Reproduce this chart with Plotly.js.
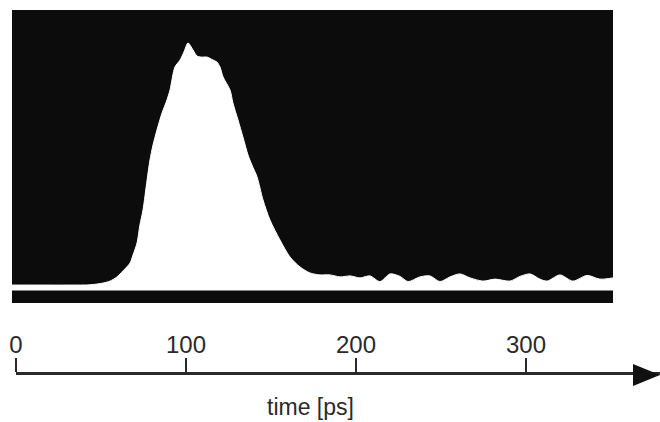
<!DOCTYPE html>
<html>
<head>
<meta charset="utf-8">
<script src="https://cdn.plot.ly/plotly-3.0.1.min.js"></script>
<style>html,body{margin:0;padding:0;background:#fff}#chart{width:660px;height:422px}</style>
</head>
<body>
<div id="chart"></div>
<script>
// time in ps
const timePs = [-2.4, 14.1, 31.8, 43.5, 51.2, 55.3, 59.4, 62.9, 67.1, 68.8, 71.2, 72.9, 74.7, 77.1, 78.8, 80.6, 82.9, 85.9, 88.8, 90.6, 93.5, 96.5, 98.8, 101.2, 104.1, 106.5, 108.8, 112.4, 115.9, 118.2, 120.0, 121.8, 125.9, 127.6, 130.6, 133.5, 136.5, 138.8, 141.8, 145.3, 149.4, 155.3, 161.2, 167.1, 172.9, 178.8, 184.7, 190.6, 196.5, 202.4, 208.2, 214.1, 220.0, 225.9, 230.6, 237.6, 243.5, 249.4, 255.3, 261.2, 267.1, 274.7, 281.8, 290.6, 296.5, 302.4, 308.2, 312.4, 320.0, 327.6, 335.9, 343.5, 351.2];
// intensity (arbitrary units, peak = 100)
const intensity = [2.2, 2.2, 2.2, 2.3, 3.0, 3.8, 5.5, 7.9, 11.1, 14.3, 19.2, 26.5, 32.5, 44.6, 52.7, 58.8, 64.8, 71.7, 77.0, 81.0, 90.3, 93.1, 96.4, 100, 97.2, 94.7, 94.3, 94.3, 93.1, 92.3, 90.3, 86.3, 81.0, 75.8, 68.9, 62.0, 54.7, 50.7, 45.9, 36.6, 28.5, 20.4, 13.5, 9.5, 7.1, 6.3, 6.3, 5.5, 5.9, 5.1, 5.9, 3.6, 6.7, 5.7, 3.6, 5.5, 5.9, 3.6, 5.5, 6.7, 5.1, 3.8, 4.6, 3.8, 5.7, 6.7, 4.6, 3.8, 6.3, 3.8, 6.1, 4.6, 5.1];
// time axis ticks
const tickValues = [0, 100, 200, 300];
const tickLabels = ['0', '100', '200', '300'];
const axisTitle = 'time [ps]';

const font = 'Liberation Sans, Arial, sans-serif';
const ink = '#2a2a2a';

const traces = [
  {
    x: timePs, y: intensity, xaxis: 'x', yaxis: 'y',
    type: 'scatter', mode: 'lines', fill: 'tozeroy',
    fillcolor: '#ffffff', line: {color: '#ffffff', width: 1, shape: 'spline', smoothing: 0.8},
    hoverinfo: 'skip', showlegend: false
  },
  {
    x: [tickValues[0]], y: [0], xaxis: 'x2', yaxis: 'y2',
    type: 'scatter', mode: 'markers', marker: {opacity: 0},
    hoverinfo: 'skip', showlegend: false
  }
];

const layout = {
  width: 660, height: 422,
  margin: {l: 12, r: 0, t: 0, b: 0},
  paper_bgcolor: '#ffffff', plot_bgcolor: 'rgba(0,0,0,0)',
  showlegend: false,
  xaxis: {domain: [0, 601/648], range: [-2.353, 351.18], visible: false, fixedrange: true},
  yaxis: {domain: [1 - 303/422, 1 - 10/422], range: [-5.05, 113.33], visible: false, fixedrange: true},
  xaxis2: {
    domain: [4/648, 1], range: [0, 644/1.7], anchor: 'y2', side: 'top',
    showline: true, linecolor: ink, linewidth: 3,
    ticks: 'outside', ticklen: 14, tickwidth: 2.5, tickcolor: ink,
    ticklabelstandoff: -5,
    tickvals: tickValues, ticktext: tickLabels,
    tickfont: {family: font, size: 24, color: ink},
    showgrid: false, zeroline: false, fixedrange: true
  },
  yaxis2: {domain: [0, 1 - 375/422], range: [0, 1], anchor: 'x2', visible: false, fixedrange: true},
  shapes: [
    {type: 'rect', xref: 'x domain', yref: 'y domain', x0: 0, x1: 1, y0: 0, y1: 1,
     fillcolor: '#0c0c0c', line: {width: 0}, layer: 'below'},
    {type: 'path', xref: 'paper', yref: 'paper',
     path: 'M ' + (633-12)/648 + ' ' + (1-364/422) + ' L 1 ' + (1-375/422) + ' L ' + (633-12)/648 + ' ' + (1-386/422) + ' Z',
     fillcolor: '#111111', line: {width: 0}}
  ],
  annotations: [
    {text: axisTitle, xref: 'paper', yref: 'paper', x: (310-12)/648, y: 1 - 407/422,
     xanchor: 'center', yanchor: 'middle', showarrow: false, borderpad: 0,
     font: {family: font, size: 23, color: ink}}
  ]
};

Plotly.newPlot('chart', traces, layout, {staticPlot: true, displayModeBar: false});
</script>
</body>
</html>
